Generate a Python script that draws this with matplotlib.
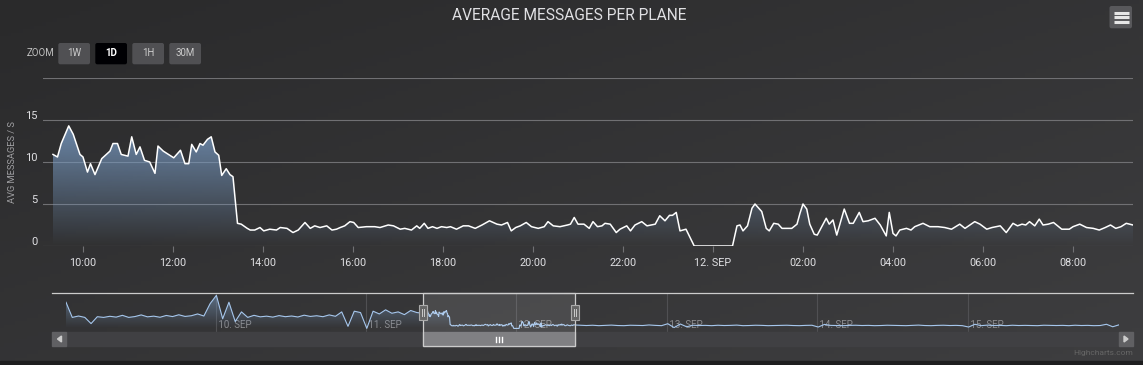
import matplotlib
matplotlib.use("Agg")
import matplotlib.pyplot as plt
import numpy as np
from matplotlib.patches import FancyBboxPatch, Rectangle, Polygon
from matplotlib.transforms import ScaledTranslation

# ---- data ---------------------------------------------------------------
# main series: minutes since 11 Sep 00:00, avg messages / s
minutes_main = [
    560, 566, 571, 581, 587, 596, 600, 606, 610, 616, 625, 636,
    640, 646, 651, 660, 665, 671, 676, 682, 689, 696, 700, 707,
    721, 730, 736, 741, 745, 751, 756, 760, 766, 771, 776, 781,
    785, 791, 796, 800, 806, 811, 819, 823, 829, 836, 841, 849,
    858, 863, 872, 880, 887, 896, 903, 909, 916, 925, 932, 938,
    943, 949, 956, 961, 967, 978, 989, 996, 1007, 1014, 1023, 1029,
    1038, 1045, 1049, 1055, 1060, 1066, 1072, 1078, 1085, 1090, 1098, 1107,
    1114, 1123, 1132, 1142, 1152, 1158, 1166, 1171, 1177, 1183, 1191, 1198,
    1207, 1215, 1220, 1227, 1236, 1246, 1250, 1255, 1260, 1268, 1275, 1280,
    1286, 1292, 1296, 1303, 1311, 1316, 1325, 1330, 1336, 1345, 1352, 1363,
    1369, 1376, 1382, 1386, 1391, 1396, 1404, 1415, 1466, 1472, 1476, 1480,
    1486, 1492, 1496, 1505, 1511, 1515, 1521, 1527, 1532, 1545, 1552, 1556,
    1560, 1565, 1569, 1575, 1579, 1585, 1591, 1595, 1600, 1605, 1615, 1622,
    1627, 1635, 1640, 1647, 1656, 1663, 1671, 1675, 1680, 1684, 1689, 1698,
    1704, 1709, 1720, 1729, 1740, 1749, 1758, 1769, 1776, 1789, 1796, 1805,
    1812, 1823, 1831, 1840, 1846, 1852, 1857, 1862, 1869, 1875, 1880, 1887,
    1894, 1905, 1915, 1920, 1929, 1938, 1947, 1955, 1963, 1970, 1977, 1984,
    1991, 2000,
]
values_main = [
    10.9, 10.6, 12.2, 14.3, 13.3, 10.9, 10.6, 8.8, 9.8, 8.5, 10.4, 11.3,
    12.2, 12.2, 10.9, 10.7, 13.0, 10.9, 11.8, 10.2, 10.0, 8.65, 11.9, 11.3,
    10.5, 11.4, 9.8, 9.8, 12.1, 11.2, 12.2, 12.0, 12.7, 13.0, 11.2, 10.8,
    8.4, 9.2, 8.5, 8.25, 2.7, 2.6, 2.1, 1.9, 1.9, 2.2, 1.8, 2.0,
    1.9, 2.2, 2.1, 1.6, 1.9, 2.8, 2.1, 2.4, 2.2, 2.4, 1.9, 2.0,
    2.2, 2.4, 2.9, 2.8, 2.2, 2.3, 2.3, 2.2, 2.5, 2.4, 2.0, 2.1,
    1.9, 2.4, 2.1, 2.7, 2.1, 2.3, 2.1, 2.3, 2.2, 2.3, 2.0, 2.4,
    2.4, 2.1, 2.5, 3.0, 2.6, 2.5, 2.8, 1.8, 2.2, 2.4, 2.8, 2.3,
    2.1, 2.3, 2.9, 2.4, 2.3, 2.5, 2.6, 3.4, 2.6, 2.6, 2.1, 2.9,
    2.3, 2.4, 2.7, 2.6, 1.6, 2.0, 2.4, 1.8, 2.5, 2.9, 2.4, 2.6,
    3.6, 3.0, 3.65, 3.65, 4.0, 1.8, 2.0, 0.0, 0.0, 2.4, 2.5, 1.8,
    2.4, 4.5, 5.0, 4.1, 2.1, 1.8, 2.7, 2.6, 2.1, 2.1, 2.6, 3.9,
    5.0, 4.4, 2.6, 1.4, 1.3, 2.3, 3.3, 2.6, 3.1, 1.3, 4.4, 2.7,
    2.7, 4.0, 2.9, 3.0, 3.3, 2.5, 1.2, 4.0, 1.5, 1.2, 1.9, 2.1,
    1.9, 2.3, 2.7, 2.3, 2.3, 2.2, 2.0, 2.6, 2.1, 2.9, 2.6, 2.0,
    2.2, 2.4, 1.6, 2.7, 2.4, 2.6, 2.5, 2.9, 2.4, 3.2, 2.5, 2.6,
    2.8, 2.0, 2.0, 2.3, 2.6, 2.2, 2.1, 1.9, 2.2, 2.5, 2.1, 2.3,
    2.7, 2.5,
]

# navigator series (hourly) before and after the selected day
nav_pre_start = -2872   # minutes since 11 Sep 00:00
nav_pre_values = [
    19.0, 8.0, 9.0, 8.0, 3.5, 8.5, 8.0, 8.8, 8.2, 9.5,
    8.0, 8.6, 9.8, 8.4, 8.9, 8.1, 9.4, 8.6, 9.9, 8.7,
    9.2, 10.5, 9.0, 18.0, 24.0, 7.0, 19.0, 5.0, 12.0, 8.0,
    9.5, 8.4, 8.9, 8.2, 9.3, 8.5, 9.0, 8.3, 9.6, 8.7,
    9.2, 8.5, 9.8, 8.8, 12.0, 1.5, 12.5, 11.5, 0.0, 12.5,
    10.5, 13.5, 11.0, 12.0, 10.0, 13.0, 11.5,
]
nav_post_start = 2110
nav_post_values = [
    2.1, 2.3, 2.0, 2.2, 2.4, 2.1, 2.0, 2.3, 2.2, 2.1, 2.5, 2.2, 2.0,
    3.4, 0.6, 3.2, 1.2, 2.3,
    2.1, 2.2, 2.0, 2.3, 2.1, 2.2, 2.4, 2.0, 2.1, 2.3, 2.2, 2.0, 2.1, 2.2,
    2.3, 2.1, 2.0, 2.2, 2.3,
    1.0, 2.9, 2.2,
    2.1, 2.0, 2.2, 2.3, 2.1, 2.2, 2.0, 2.1, 2.3, 2.2, 2.1, 2.0, 2.2, 2.4,
    2.1, 2.0, 2.2, 2.3, 2.1, 2.2, 2.0,
    1.0, 3.0, 2.0, 2.4,
    2.1, 2.2, 2.0, 2.3, 2.1, 2.2, 2.1, 2.0, 2.3, 2.2, 2.1, 2.2, 2.0, 2.3,
    2.1, 2.2, 2.0, 2.1,
    3.0, 1.2, 2.6,
]

x_ticks = [600, 720, 840, 960, 1080, 1200, 1320, 1440, 1560, 1680, 1800, 1920]
x_labels = ["10:00", "12:00", "14:00", "16:00", "18:00", "20:00", "22:00",
            "12. SEP", "02:00", "04:00", "06:00", "08:00"]
y_ticks = [0, 5, 10, 15, 20]
y_labels = ["0", "5", "10", "15", ""]
nav_days = [-1440, 0, 1440, 2880, 4320, 5760]
nav_labels = ["10. SEP", "11. SEP", "12. SEP", "13. SEP", "14. SEP", "15. SEP"]
zoom_buttons = ["1W", "1D", "1H", "30M"]
selected_button = "1D"

# ---- figure ---------------------------------------------------------------
W, H = 1143, 365
plt.rcParams['font.family'] = ['Roboto', 'DejaVu Sans']
TXT = '#E0E0E3'
GRID = '#707073'
BLUE = np.array([0x77, 0x98, 0xBF]) / 255

fig = plt.figure(figsize=(W / 100, H / 100), dpi=100)


def px_axes(x0, y0, x1, y1, z=1):
    return fig.add_axes([x0 / W, 1 - y1 / H, (x1 - x0) / W, (y1 - y0) / H], zorder=z)


def gradient_area(a, xs, ys, alpha_top):
    poly = a.fill_between(xs, ys, 0, facecolor='none', edgecolor='none')
    grad = np.zeros((120, 1, 4))
    grad[..., :3] = BLUE
    grad[:, 0, 3] = np.linspace(0, alpha_top, 120)
    im = a.imshow(grad, extent=[xs[0], xs[-1], 0, max(ys)], origin='lower',
                  aspect='auto', zorder=1, interpolation='bilinear')
    im.set_clip_path(poly.get_paths()[0], transform=a.transData)


# background with diagonal gradient
bg = px_axes(0, 0, W, H, z=0)
gx, gy = np.meshgrid(np.linspace(0, 1, 300), np.linspace(0, 1, 100))
t = (gx + gy) / 2
c0 = np.array([0x2a, 0x2a, 0x2b]) / 255
c1 = np.array([0x3e, 0x3e, 0x40]) / 255
bg.imshow(c0 + (c1 - c0) * t[..., None], extent=[0, W, H, 0], aspect='auto')
bg.add_patch(Rectangle((0, 361), W, 4, color='#1e1e1f'))
bg.set_xlim(0, W)
bg.set_ylim(H, 0)
bg.axis('off')

# main chart
ax = px_axes(43.3, 78, 1132.7, 246, z=2)
ax.set_facecolor('none')
for s in ax.spines.values():
    s.set_visible(False)
xs = np.array(minutes_main)
ys = np.array(values_main)
gradient_area(ax, xs, ys, 0.85)
ax.plot(xs, ys, color='white', lw=1.1, zorder=3)
ax.set_xlim(547.1, 1999.6)
ax.set_ylim(0, 20)
ax.set_axisbelow(True)
ax.grid(axis='y', color=GRID, lw=0.8)
ax.set_yticks(y_ticks)
ax.set_yticklabels(y_labels)
ax.tick_params(axis='y', length=0, pad=4, labelsize=8, labelcolor=TXT)
for lab in ax.get_yticklabels():
    lab.set_transform(lab.get_transform() + ScaledTranslation(0, 0.05, fig.dpi_scale_trans))
ax.set_xticks(x_ticks)
ax.set_xticklabels(x_labels)
ax.tick_params(axis='x', length=4.5, width=0.8, color=GRID, pad=4,
               labelsize=7.8, labelcolor=TXT)

# navigator
NX0, NX1, NY0, NY1 = 66, 1119, 293, 332
nav = px_axes(NX0, NY0, NX1, NY1, z=2)
nav.set_facecolor('none')
for s in nav.spines.values():
    s.set_visible(False)
nav_x = np.concatenate([nav_pre_start + 60 * np.arange(len(nav_pre_values)), xs,
                        nav_post_start + 60 * np.arange(len(nav_post_values))])
nav_y = np.concatenate([nav_pre_values, ys, nav_post_values])
nlim = (nav_x[0], nav_x[-1])
for d, lab in zip(nav_days, nav_labels):
    nav.axvline(d, color='#505053', lw=0.8, zorder=0)
    nav.text(d, 0.18, ' ' + lab, transform=nav.get_xaxis_transform(),
             color='#8c8c8f', fontsize=7, va='center', ha='left', zorder=0.5)
gradient_area(nav, nav_x, nav_y, 0.6)
nav.plot(nav_x, nav_y, color='#A6C7ED', lw=0.8, zorder=3)
nav.axvspan(547.1, 1999.6, color='white', alpha=0.1, lw=0, zorder=4)
nav.set_xlim(*nlim)
nav.set_ylim(-2.6, 25.7)
nav.set_xticks([])
nav.set_yticks([])

# overlay in pixel coordinates
ov = px_axes(0, 0, W, H, z=5)
ov.set_xlim(0, W)
ov.set_ylim(H, 0)
ov.axis('off')


def nav_px(m):
    return NX0 + (m - nlim[0]) / (nlim[1] - nlim[0]) * (NX1 - NX0)


xl, xr = nav_px(547.1), nav_px(1999.6)

# scrollbar
ov.add_patch(Rectangle((NX0, 332), NX1 - NX0, 14, color='#404043', zorder=1))
for bx, pts in [(52, [(61.5, 336), (61.5, 342), (57.5, 339)]),
                (NX1, [(1124, 336), (1124, 342), (1128, 339)])]:
    ov.add_patch(Rectangle((bx, 332), 14, 14, color='#606063', zorder=2))
    ov.add_patch(Polygon(pts, closed=True, color='#CCCCCC', zorder=3))
ov.add_patch(Rectangle((xl, 332), xr - xl, 14, color='#808083', zorder=2))
cx = (xl + xr) / 2
for dx in (-3, 0, 3):
    ov.plot([cx + dx, cx + dx], [336.5, 341.5], color='white', lw=1, zorder=3)

# outline
ov.plot([52, 1133], [293, 293], color='#CCCCCC', lw=0.9, zorder=4)
ov.add_patch(Rectangle((xl, 293), xr - xl, 53, fill=False, ec='#CCCCCC', lw=0.9, zorder=4))
for hx in (xl, xr):
    ov.add_patch(Rectangle((hx - 4, 305), 8, 15, fc='#666666', ec='#AAAAAA', lw=0.8, zorder=5))
    for dx in (-1.2, 1.2):
        ov.plot([hx + dx, hx + dx], [309, 316], color='#CCCCCC', lw=0.7, zorder=6)

# title
ov.text(W / 2 - 2, 16, "AVERAGE MESSAGES PER PLANE", color=TXT, fontsize=11.2,
        ha='center', va='center')

# y axis title
ov.text(12.5, 162, "AVG MESSAGES / S", color='#A0A0A3', fontsize=6.7,
        rotation=90, ha='center', va='center')

# range selector
ov.text(27, 53.5, "ZOOM", color='#C0C0C0', fontsize=7, ha='left', va='center')
for i, lab in enumerate(zoom_buttons):
    x0 = 58.3 + i * 37
    sel = lab == selected_button
    ov.add_patch(FancyBboxPatch((x0, 43), 31.7, 21.3, boxstyle='round,pad=0,rounding_size=2',
                                fc='#000003' if sel else '#505053', ec='none', zorder=2))
    ov.text(x0 + 15.8, 53.5, lab, color='white' if sel else '#CCCCCC', fontsize=7,
            fontweight='bold' if sel else 'normal', ha='center', va='center', zorder=3)

# export menu button
ov.add_patch(FancyBboxPatch((1109.5, 6), 22.5, 22.3, boxstyle='round,pad=0,rounding_size=2',
                            fc='#58585b', ec='none', zorder=2))
for yy in (12.8, 17.2, 21.6):
    ov.plot([1113.5, 1128.5], [yy, yy], color='#E6E6E6', lw=2.2, solid_capstyle='butt', zorder=3)

# credits
ov.text(1133, 353, "Highcharts.com", color='#666666', fontsize=6, ha='right', va='center')

fig.savefig("out.png", dpi=100)
